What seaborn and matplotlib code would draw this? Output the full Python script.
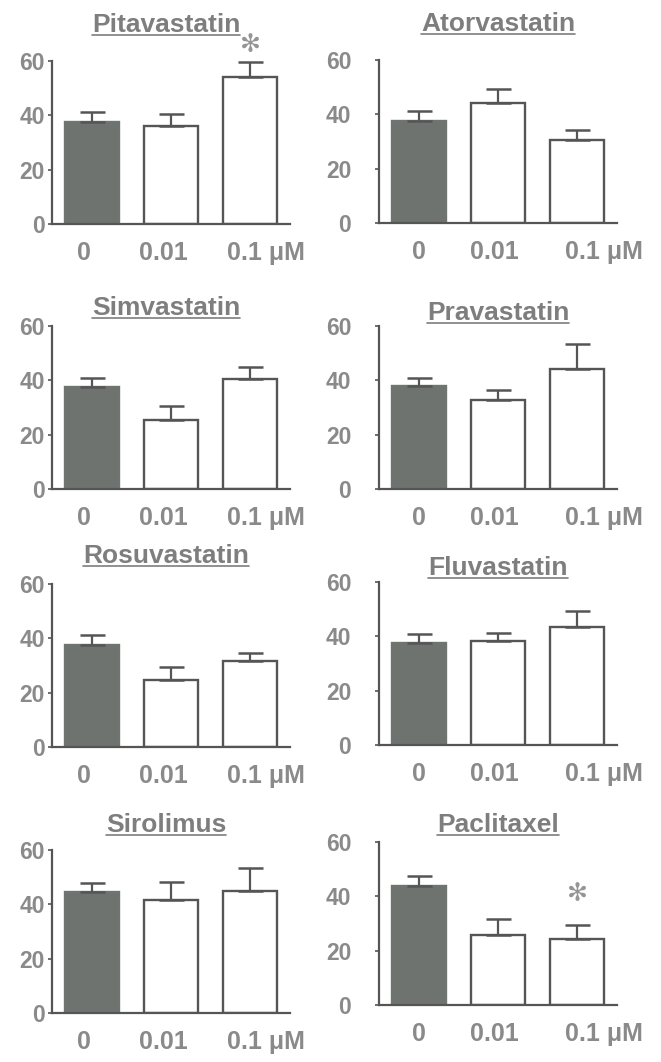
import matplotlib
matplotlib.use("Agg")
import matplotlib.pyplot as plt
import seaborn as sns
import pandas as pd
from matplotlib.lines import Line2D

# ---------------- data ----------------
doses = ["0", "0.01", "0.1"]
dose_labels = ["0", "0.01", "0.1 \u03bcM"]
drugs = ["Pitavastatin", "Atorvastatin", "Simvastatin", "Pravastatin",
         "Rosuvastatin", "Fluvastatin", "Sirolimus", "Paclitaxel"]

pitavastatin_mean = [37.7, 36.0, 54.2]
pitavastatin_sem = [3.4, 4.6, 5.3]
atorvastatin_mean = [37.7, 44.2, 30.6]
atorvastatin_sem = [3.4, 5.0, 3.7]
simvastatin_mean = [37.6, 25.4, 40.6]
simvastatin_sem = [3.3, 5.1, 4.4]
pravastatin_mean = [37.8, 32.8, 44.3]
pravastatin_sem = [3.1, 3.7, 8.9]
rosuvastatin_mean = [37.7, 24.8, 31.7]
rosuvastatin_sem = [3.4, 4.6, 2.8]
fluvastatin_mean = [37.5, 38.3, 43.4]
fluvastatin_sem = [3.2, 3.1, 6.1]
sirolimus_mean = [44.5, 41.5, 44.9]
sirolimus_sem = [3.3, 6.6, 8.4]
paclitaxel_mean = [43.9, 25.8, 24.3]
paclitaxel_sem = [3.5, 6.0, 5.3]

means = [pitavastatin_mean, atorvastatin_mean, simvastatin_mean, pravastatin_mean,
         rosuvastatin_mean, fluvastatin_mean, sirolimus_mean, paclitaxel_mean]
sems = [pitavastatin_sem, atorvastatin_sem, simvastatin_sem, pravastatin_sem,
        rosuvastatin_sem, fluvastatin_sem, sirolimus_sem, paclitaxel_sem]
significant = {"Pitavastatin": "0.1", "Paclitaxel": "0.1"}
y_ticks = [0, 20, 40, 60]

# ---------------- layout / style ----------------
FW, FH = 661, 1062
col_left_px = [52, 379]
ax_w_px = 238
ax_h_px = 163
row_y0_px = [(224, 223), (489, 489), (747, 745), (1013, 1005)]
title_base_px = [(32, 31), (315, 320), (563, 575), (832, 832)]
title_x_px = [166, 498]
xlabel_offsets = [[-0.1, -0.1, 0.2], [0.0, -0.04, 0.33]]
ylabel_pad = [2, 17]
star_y = {"Pitavastatin": 66, "Paclitaxel": 41}

dark = "#6e746f"
line_c = "#555555"
text_c = "#8a8a8a"
title_c = "#7e7e7e"

sns.set_theme(style="ticks")
plt.rcParams["font.family"] = ["Liberation Sans", "DejaVu Sans"]
plt.rcParams["font.weight"] = "bold"

fig = plt.figure(figsize=(FW / 100, FH / 100), dpi=100)
titles = []
for i, drug in enumerate(drugs):
    row, col = divmod(i, 2)
    y0 = row_y0_px[row][col]
    rect = [col_left_px[col] / FW, 1 - y0 / FH, ax_w_px / FW, ax_h_px / FH]
    ax = fig.add_axes(rect)
    df = pd.DataFrame({"dose": doses, "value": means[i], "sem": sems[i]})
    sns.barplot(data=df, x="dose", y="value", hue="dose", order=doses,
                hue_order=doses, palette=[dark, "white", "white"],
                legend=False, errorbar=None, width=0.68, ax=ax,
                linewidth=1.7, edgecolor=line_c)
    ax.patches[0].set_edgecolor(dark)
    ax.errorbar(range(len(doses)), df["value"],
                yerr=[[0] * len(doses), df["sem"]], fmt="none",
                ecolor=line_c, elinewidth=1.6, capsize=9, capthick=1.8,
                zorder=1)
    ax.set_xlim(-0.5, 2.5)
    ax.set_ylim(0, 60)
    ax.set_yticks(y_ticks)
    ax.set_yticklabels([str(t) for t in y_ticks], fontsize=16.5,
                       fontweight="bold", color=text_c)
    offs = xlabel_offsets[col]
    ax.set_xticks([k + offs[k] for k in range(len(doses))])
    ax.set_xticklabels(dose_labels, fontsize=18, fontweight="bold", color=text_c)
    ax.tick_params(axis="x", length=0, pad=12)
    ax.tick_params(axis="y", length=3, width=1.2, color=line_c,
                   pad=ylabel_pad[col])
    ax.set_xlabel("")
    ax.set_ylabel("")
    for s in ["top", "right"]:
        ax.spines[s].set_visible(False)
    for s in ["left", "bottom"]:
        ax.spines[s].set_color(line_c)
        ax.spines[s].set_linewidth(1.6)
    ax.set_facecolor("none")
    if drug in significant:
        k = doses.index(significant[drug])
        ax.text(k, star_y[drug], "\u273b", ha="center", va="center",
                fontsize=18, color="#959595", fontweight="normal",
                family="DejaVu Sans", clip_on=False)
    t = fig.text(title_x_px[col] / FW, 1 - title_base_px[row][col] / FH, drug,
                 ha="center", va="baseline", fontsize=19, fontweight="bold",
                 color=title_c)
    titles.append((t, title_base_px[row][col]))

fig.canvas.draw()
r = fig.canvas.get_renderer()
for t, base in titles:
    bb = t.get_window_extent(renderer=r)
    yy = 1 - (base + 3) / FH
    fig.add_artist(Line2D([bb.x0 / FW, bb.x1 / FW], [yy, yy],
                          transform=fig.transFigure, color=title_c, lw=1.2))

fig.savefig("out.png", dpi=100, facecolor="white")
